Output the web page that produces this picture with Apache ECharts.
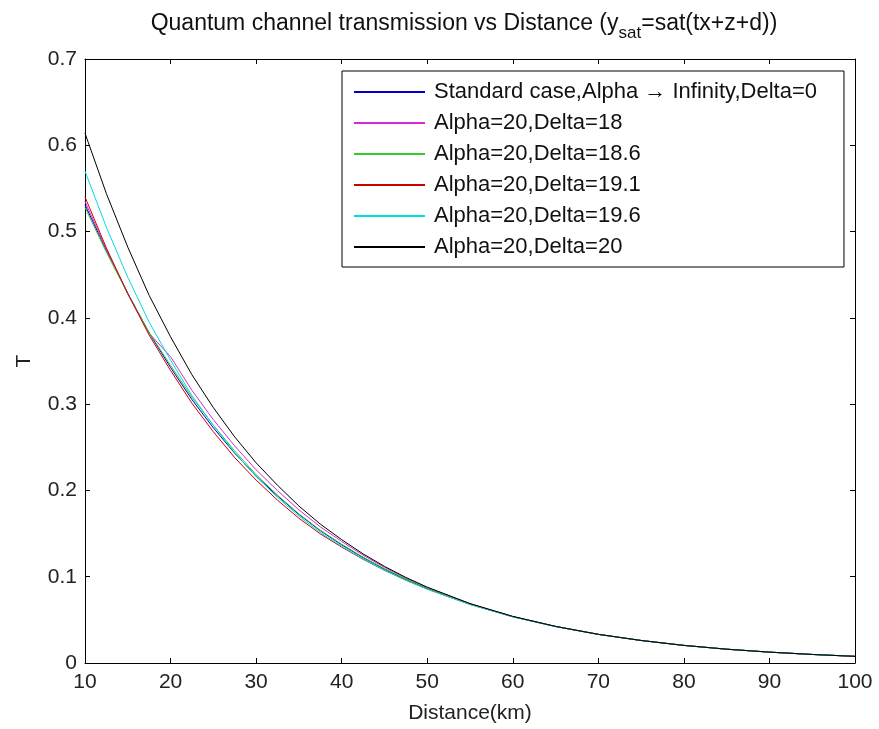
<!DOCTYPE html>
<html>
<head>
<meta charset="utf-8">
<script src="https://cdn.jsdelivr.net/npm/echarts@6/dist/echarts.min.js"></script>
<style>html,body{margin:0;padding:0;background:#fff}#c{width:879px;height:729px}</style>
</head>
<body>
<div id="c"></div>
<script>
const distance = [10,12.5,15,17.5,20,22.5,25,27.5,30,32.5,35,37.5,40,42.5,45,47.5,50,55,60,65,70,75,80,85,90,95,100];
const standardCase = [0.531,0.478,0.4285,0.3825,0.3425,0.3053,0.2726,0.2431,0.2167,0.1936,0.1722,0.1533,0.137,0.1221,0.1088,0.0969,0.0863,0.0682,0.0538,0.0424,0.0332,0.0261,0.0204,0.016,0.0126,0.0099,0.0077];
const delta18 = [0.535,0.479,0.428,0.382,0.355,0.316,0.282,0.2515,0.2239,0.1998,0.1775,0.1578,0.1409,0.125,0.1109,0.0984,0.0874,0.0687,0.0539,0.0424,0.0332,0.0261,0.0204,0.016,0.0126,0.0099,0.0077];
const delta186 = [0.528,0.476,0.428,0.383,0.345,0.308,0.2756,0.2458,0.2183,0.1945,0.1729,0.1539,0.1377,0.1227,0.1093,0.0974,0.0868,0.0684,0.0538,0.0424,0.0332,0.0261,0.0204,0.016,0.0126,0.0099,0.0077];
const delta191 = [0.540,0.481,0.428,0.380,0.339,0.301,0.268,0.238,0.212,0.1887,0.1678,0.1497,0.1344,0.1202,0.1075,0.096,0.0857,0.0679,0.0536,0.0423,0.0332,0.0261,0.0204,0.016,0.0126,0.0099,0.0077];
const delta196 = [0.570,0.505,0.447,0.395,0.351,0.310,0.2753,0.2437,0.216,0.192,0.1702,0.1513,0.1353,0.1206,0.1075,0.0959,0.0856,0.0678,0.0535,0.0422,0.0332,0.0261,0.0204,0.016,0.0126,0.0099,0.0077];
const delta20 = [0.614,0.544,0.482,0.426,0.378,0.334,0.296,0.262,0.232,0.206,0.182,0.161,0.143,0.1265,0.112,0.0992,0.0879,0.0689,0.054,0.0424,0.0332,0.0261,0.0204,0.016,0.0126,0.0099,0.0077];
const seriesNames = ['Standard case,Alpha \u2192 Infinity,Delta=0','Alpha=20,Delta=18','Alpha=20,Delta=18.6','Alpha=20,Delta=19.1','Alpha=20,Delta=19.6','Alpha=20,Delta=20'];
const seriesValues = [standardCase, delta18, delta186, delta191, delta196, delta20];
const seriesColors = ['#0000c8','#d62ad6','#2ecc2e','#d00000','#00dede','#000000'];

const FONT = 'Liberation Sans, Arial, sans-serif';
const chart = echarts.init(document.getElementById('c'));
const series = seriesNames.map((n,i)=>({
  name:n, type:'line', xAxisIndex:0, yAxisIndex:0, symbol:'none', showSymbol:false, animation:false,
  lineStyle:{color:seriesColors[i], width:1}, itemStyle:{color:seriesColors[i]},
  data: distance.map((d,j)=>[d, seriesValues[i][j]])
}));
const tickStyle = {show:true, inside:true, length:5, lineStyle:{color:'#000', width:1}};
const lineStyle = {show:true, onZero:false, lineStyle:{color:'#000', width:1}};
chart.setOption({
  backgroundColor:'#fff',
  animation:false,
  title:{
    left:459, textAlign:'center', top:7,
    text:'{a|Quantum channel transmission vs Distance (y}{s|sat}{a|=sat(tx+z+d))}',
    textStyle:{fontWeight:'normal', rich:{
      a:{fontFamily:FONT, fontSize:23, fontWeight:'normal', color:'#111', verticalAlign:'top', lineHeight:26},
      s:{fontFamily:FONT, fontSize:17, fontWeight:'normal', color:'#111', verticalAlign:'top', lineHeight:26, padding:[13,0,0,0]}
    }}
  },
  grid:{left:85, top:59, right:24, bottom:63, containLabel:false},
  legend:{
    left:342, top:71, orient:'vertical', selectedMode:false,
    backgroundColor:'#fff', borderColor:'#000', borderWidth:1,
    padding:[10,27,9,12], itemWidth:71, itemHeight:2, itemGap:9,
    icon:'rect',
    textStyle:{fontFamily:FONT, fontSize:22, color:'#111', lineHeight:22, padding:[0,0,0,4]},
    data: seriesNames
  },
  xAxis:[
    {type:'value', position:'bottom', min:10, max:100, interval:10,
     axisLine:lineStyle, axisTick:tickStyle, splitLine:{show:false},
     axisLabel:{fontFamily:FONT, fontSize:21, color:'#222', margin:9},
     name:'Distance(km)', nameLocation:'middle', nameGap:40,
     nameTextStyle:{fontFamily:FONT, fontSize:21, color:'#222'}},
    {type:'value', position:'top', min:10, max:100, interval:10,
     axisLine:lineStyle, axisTick:tickStyle, splitLine:{show:false}, axisLabel:{show:false}}
  ],
  yAxis:[
    {type:'value', position:'left', min:0, max:0.7, interval:0.1,
     axisLine:lineStyle, axisTick:tickStyle, splitLine:{show:false},
     axisLabel:{fontFamily:FONT, fontSize:21, color:'#222', margin:8},
     name:'T', nameLocation:'middle', nameGap:50, nameRotate:90,
     nameTextStyle:{fontFamily:FONT, fontSize:21, color:'#222'}},
    {type:'value', position:'right', min:0, max:0.7, interval:0.1,
     axisLine:lineStyle, axisTick:tickStyle, splitLine:{show:false}, axisLabel:{show:false}}
  ],
  series: series
});
</script>
</body>
</html>
